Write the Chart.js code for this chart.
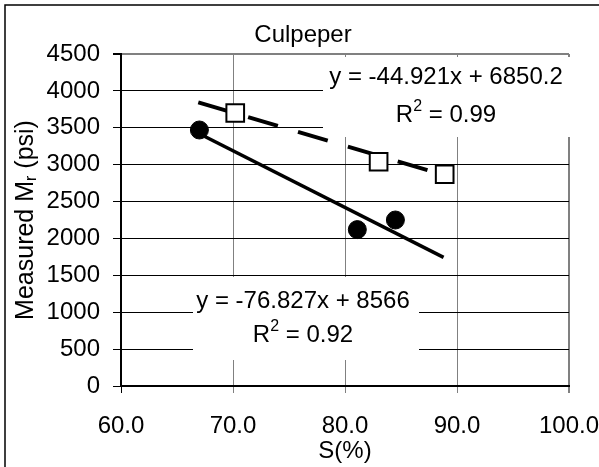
<!DOCTYPE html>
<html lang="en">
<head>
<meta charset="UTF-8" />
<title>Culpeper</title>
<style>
  html, body { margin: 0; padding: 0; background: #fff; }
  canvas { display: block; }
</style>
</head>
<body>
<canvas id="chart" width="599" height="467"></canvas>

<script src="https://cdn.jsdelivr.net/npm/chart.js"></script>
<script>
// measured points
const circleS = [67.0, 81.1, 84.5];
const circleMr = [3470, 2120, 2250];
const squareS = [70.2, 83.0, 88.9];
const squareMr = [3700, 3040, 2870];

// linear trend lines (slope, intercept, R2) and the S range each one covers
const solidFit = [-76.827, 8566, 0.92];
const solidRange = [67.0, 88.8];
const dashedFit = [-44.921, 6850.2, 0.99];
const dashedRange = [66.9, 89.0];

// axes
const sMin = 60, sMax = 100, sStep = 10;
const mrMin = 0, mrMax = 4500, mrStep = 500;

const FONT = '"Liberation Sans", Arial, sans-serif';
const BIG = '24px ' + FONT;
const SMALL = '16px ' + FONT;
const GRAY = '#808080';

function pts(xs, ys) {
  return xs.map((x, i) => ({ x: x, y: ys[i] }));
}
function fitLine(fit, range) {
  return range.map(x => ({ x: x, y: fit[0] * x + fit[1] }));
}
function eqText(fit) {
  return 'y = ' + fit[0] + 'x + ' + fit[1];
}

// text runs: [text, font, baseline shift], drawn centred on cx
function drawRuns(c, runs, cx, cy) {
  let total = 0;
  runs.forEach(r => { c.font = r[1]; total += c.measureText(r[0]).width; });
  let x = cx - total / 2;
  c.textAlign = 'left';
  runs.forEach(r => {
    c.font = r[1];
    c.fillText(r[0], x, cy + r[2]);
    x += c.measureText(r[0]).width;
  });
}

// white label boxes with the trend equations, drawn over the grid but under the marks
const eqLabels = {
  id: 'eqLabels',
  beforeDatasetsDraw(chart) {
    const c = chart.ctx, a = chart.chartArea;
    const boxes = [
      { fit: dashedFit, x0: a.left + 202, y0: a.top + 3, x1: a.right + 2, y1: a.top + 83, cx: a.left + 325, l1: a.top + 23, l2: a.top + 61 },
      { fit: solidFit, x0: a.left + 72, y0: a.top + 223, x1: a.left + 298, y1: a.top + 306, cx: a.left + 182, l1: a.top + 247, l2: a.top + 281 }
    ];
    c.save();
    c.textBaseline = 'middle';
    boxes.forEach(b => {
      c.fillStyle = '#fff';
      c.fillRect(b.x0, b.y0, b.x1 - b.x0, b.y1 - b.y0);
      c.fillStyle = '#000';
      drawRuns(c, [[eqText(b.fit), BIG, 0]], b.cx, b.l1);
      drawRuns(c, [['R', BIG, 0], ['2', SMALL, -8], [' = ' + b.fit[2].toFixed(2), BIG, 0]], b.cx, b.l2);
    });
    c.restore();
  }
};

// title, axis titles and the outer frame
const frameText = {
  id: 'frameText',
  afterDraw(chart) {
    const c = chart.ctx, a = chart.chartArea;
    c.save();
    c.fillStyle = '#000';
    c.textBaseline = 'middle';
    drawRuns(c, [['Culpeper', BIG, 0]], 303, 35);
    drawRuns(c, [['S(%)', BIG, 0]], (a.left + a.right) / 2, 451);

    // rotated y title with subscript r
    c.translate(26, (a.top + a.bottom) / 2);
    c.rotate(-Math.PI / 2);
    drawRuns(c, [['Measured M', '25px ' + FONT, 0], ['r', SMALL, 6], [' (psi)', '25px ' + FONT, 0]], 0, 0);
    c.restore();

    c.save();
    c.strokeStyle = '#000';
    c.lineWidth = 1.5;
    c.beginPath();
    c.moveTo(5, chart.height);
    c.lineTo(5, 5);
    c.lineTo(chart.width, 5);
    c.stroke();
    c.restore();
  }
};

new Chart(document.getElementById('chart'), {
  type: 'scatter',
  data: {
    datasets: [
      {
        data: pts(circleS, circleMr),
        pointStyle: 'circle', pointRadius: 9, pointHoverRadius: 9,
        backgroundColor: '#000', borderColor: '#000', borderWidth: 1
      },
      {
        data: pts(squareS, squareMr),
        pointStyle: 'rect', pointRadius: 12.5, pointHoverRadius: 12.5,
        backgroundColor: '#fff', borderColor: '#000', borderWidth: 2
      },
      {
        data: fitLine(solidFit, solidRange),
        showLine: true, pointRadius: 0,
        borderColor: '#000', borderWidth: 3.5
      },
      {
        data: fitLine(dashedFit, dashedRange),
        showLine: true, pointRadius: 0,
        borderColor: '#000', borderWidth: 4, borderDash: [31, 21]
      }
    ]
  },
  options: {
    responsive: false,
    animation: false,
    devicePixelRatio: 1,
    layout: { padding: { left: 0, top: 54, right: 0, bottom: 0 } },
    plugins: { legend: { display: false }, title: { display: false }, tooltip: { enabled: false } },
    scales: {
      x: {
        type: 'linear', min: sMin, max: sMax,
        afterFit: s => { s.height = 81; s.paddingRight = 30; },
        ticks: {
          stepSize: sStep, padding: 19, color: '#000', maxRotation: 0,
          font: { family: FONT, size: 24 },
          callback: v => v.toFixed(1)
        },
        grid: {
          color: GRAY, lineWidth: ctx => ctx.tick && ctx.tick.value === sMax ? 2 : 1,
          tickLength: 7, tickColor: ctx => ctx.tick && ctx.tick.value === sMin ? '#000' : GRAY
        },
        border: { color: '#000', width: 2 }
      },
      y: {
        type: 'linear', min: mrMin, max: mrMax,
        afterFit: s => { s.width = 121; },
        ticks: {
          stepSize: mrStep, padding: 13, color: '#000',
          font: { family: FONT, size: 24 },
          callback: v => String(v)
        },
        grid: {
          color: ctx => ctx.tick && ctx.tick.value === mrMax ? GRAY : '#000',
          lineWidth: ctx => ctx.tick && ctx.tick.value === mrMax ? 2 : 1,
          tickLength: 8, tickColor: '#000'
        },
        border: { color: '#000', width: 2 }
      }
    }
  },
  plugins: [eqLabels, frameText]
});
</script>
</body>
</html>
